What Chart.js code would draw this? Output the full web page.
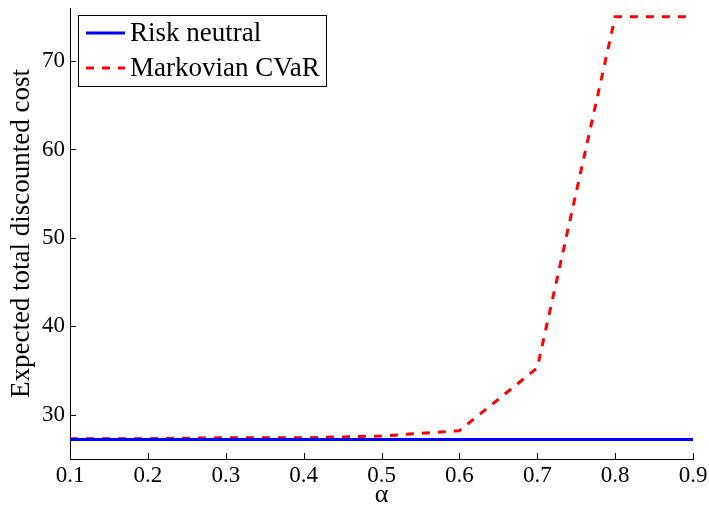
<!DOCTYPE html>
<html>
<head>
<meta charset="utf-8">
<script src="https://cdn.jsdelivr.net/npm/chart.js@4.4.1/dist/chart.umd.min.js"></script>
<style>
  html, body { margin: 0; padding: 0; background: #fff; }
  #wrap { width: 709px; height: 508px; }
</style>
</head>
<body>
<div id="wrap"><canvas id="costChart" width="709" height="508"></canvas></div>
<script>
'use strict';

// alpha values on the x axis
const alphas = [0.1, 0.2, 0.3, 0.4, 0.5, 0.6, 0.7, 0.8, 0.9];
// expected total discounted cost per policy
const riskNeutral = [27.2, 27.2, 27.2, 27.2, 27.2, 27.2, 27.2, 27.2, 27.2];
const markovCvar = [27.3, 27.3, 27.4, 27.4, 27.6, 28.2, 35.3, 75.0, 75.0];
const yTicks = [30, 40, 50, 60, 70];
const xTicks = [0.1, 0.2, 0.3, 0.4, 0.5, 0.6, 0.7, 0.8, 0.9];

const serif = '"Liberation Serif", "Times New Roman", serif';

function toPoints(xs, ys) {
    return xs.map((x, i) => ({x: x, y: ys[i]}));
}

// matlab style inward tick marks
const inwardTicks = {
    id: 'inwardTicks',
    afterDraw(chart) {
        const ctx = chart.ctx;
        const x = chart.scales.x, y = chart.scales.y;
        const len = 6;
        ctx.save();
        ctx.strokeStyle = '#000';
        ctx.lineWidth = 1;
        ctx.beginPath();
        xTicks.forEach(v => {
            const px = Math.round(x.getPixelForValue(v)) + 0.5;
            ctx.moveTo(px, y.bottom);
            ctx.lineTo(px, y.bottom - len);
        });
        yTicks.forEach(v => {
            const py = Math.round(y.getPixelForValue(v)) + 0.5;
            ctx.moveTo(x.left, py);
            ctx.lineTo(x.left + len, py);
        });
        ctx.stroke();
        ctx.restore();
    }
};

// legend box in the upper left of the plot
const boxLegend = {
    id: 'boxLegend',
    afterDraw(chart) {
        const ctx = chart.ctx;
        const left = chart.chartArea.left + 8, top = chart.chartArea.top + 7;
        const w = 248, h = 71;
        ctx.save();
        ctx.fillStyle = '#fff';
        ctx.fillRect(left, top, w, h);
        ctx.strokeStyle = '#000';
        ctx.lineWidth = 1;
        ctx.strokeRect(left + 0.5, top + 0.5, w, h);
        ctx.font = '27px ' + serif;
        ctx.textBaseline = 'middle';
        ctx.fillStyle = '#000';
        chart.data.datasets.forEach((ds, i) => {
            const cy = top + 18 + i * 35;
            ctx.strokeStyle = ds.borderColor;
            ctx.lineWidth = ds.borderWidth;
            ctx.setLineDash(ds.borderDash || []);
            ctx.beginPath();
            ctx.moveTo(left + 8, cy);
            ctx.lineTo(left + 47, cy);
            ctx.stroke();
            ctx.setLineDash([]);
            ctx.fillText(ds.label, left + 52, cy + 1);
        });
        ctx.restore();
    }
};

new Chart(document.getElementById('costChart'), {
    type: 'line',
    data: {
        datasets: [{
            label: 'Risk neutral',
            data: toPoints(alphas, riskNeutral),
            borderColor: '#0000ff',
            borderWidth: 3,
            pointRadius: 0,
            tension: 0
        }, {
            label: 'Markovian CVaR',
            data: toPoints(alphas, markovCvar),
            borderColor: '#ff0000',
            borderWidth: 3,
            borderDash: [8, 8],
            pointRadius: 0,
            tension: 0
        }]
    },
    options: {
        responsive: false,
        animation: false,
        layout: {padding: {left: 0, right: 16, top: 8, bottom: 0}},
        plugins: {legend: {display: false}, tooltip: {enabled: false}},
        scales: {
            x: {
                type: 'linear', min: 0.1, max: 0.9,
                afterBuildTicks: s => { s.ticks = xTicks.map(v => ({value: v})); },
                afterFit: s => { s.height = 49; s.paddingLeft = 0; s.paddingRight = 0; },
                grid: {display: false, drawTicks: false},
                border: {display: true, color: '#000', width: 1},
                ticks: {
                    color: '#000', padding: 5,
                    font: {family: serif, size: 23, lineHeight: 1},
                    callback: v => Number(v).toFixed(1)
                },
                title: {display: true, text: 'α', color: '#000', padding: 0, font: {family: serif, size: 26, lineHeight: 1}}
            },
            y: {
                min: 25, max: 76,
                afterBuildTicks: s => { s.ticks = yTicks.map(v => ({value: v})); },
                afterFit: s => { s.width = 70; s.paddingTop = 0; s.paddingBottom = 0; },
                grid: {display: false, drawTicks: false},
                border: {display: true, color: '#000', width: 1},
                ticks: {color: '#000', padding: 5, font: {family: serif, size: 23}},
                title: {
                    display: true, text: 'Expected total discounted cost', color: '#000',
                    padding: {top: 6, bottom: 0}, font: {family: serif, size: 27, lineHeight: 1.2}
                }
            }
        }
    },
    plugins: [inwardTicks, boxLegend]
});
</script>
</body>
</html>
